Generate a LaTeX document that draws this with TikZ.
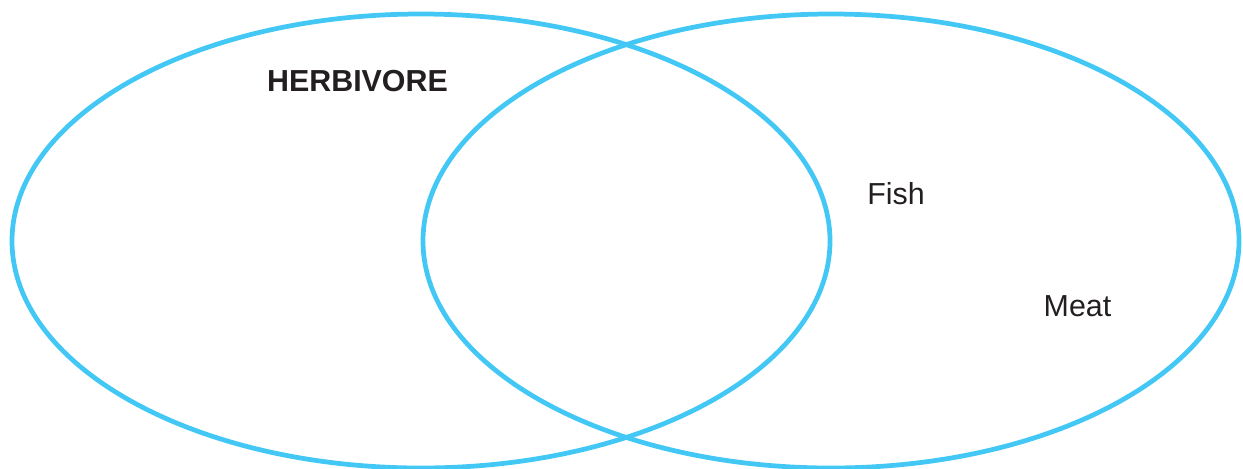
\documentclass[tikz,border=0pt]{standalone}
\usepackage{fontspec}
\setmainfont{Liberation Sans}
\usepackage{xcolor}
\usetikzlibrary{positioning}
\definecolor{vennblue}{HTML}{43C8F5}
\definecolor{labelgray}{HTML}{231F20}
\tikzset{
  set/.style={draw=vennblue,line width=2.7pt},
  lbl/.style={inner sep=0pt,text=labelgray,font=\fontsize{17.3}{20}\selectfont},
}
\begin{document}
\begin{tikzpicture}[x=0.02cm,y=-0.02cm]
\useasboundingbox (0,0) rectangle (1243,468);
\coordinate (lc) at (421,241);
\coordinate (rc) at (831,241);
\draw[set] (lc) ellipse [x radius=409,y radius=227];
\draw[set] (rc) ellipse [x radius=408,y radius=227];
\node[lbl,font=\fontsize{17.3}{20}\selectfont\bfseries] (herb) at (357.5,81) {HERBIVORE};
\node[lbl] (fish) at (896,194) {Fish};
\node[lbl] (meat) at (1077.5,306) {Meat};
\end{tikzpicture}
\end{document}
